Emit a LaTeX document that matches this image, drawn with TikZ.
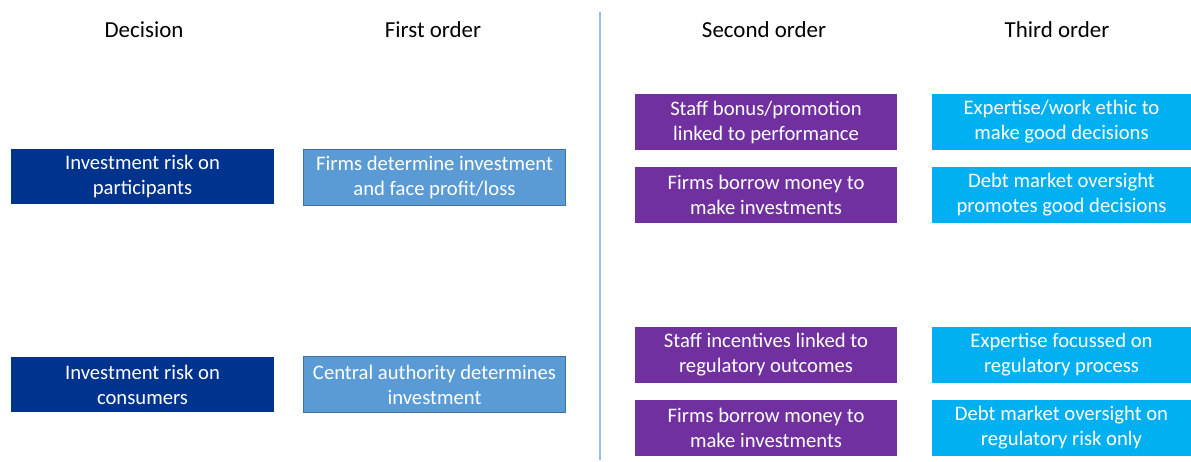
\documentclass[tikz,border=0pt]{standalone}
\usepackage{fontspec}
\setmainfont{Carlito}
\usepackage{tikz}

\definecolor{decblue}{RGB}{0,51,141}
\definecolor{firstblue}{RGB}{91,155,213}
\definecolor{firstedge}{RGB}{65,113,156}
\definecolor{secpurple}{RGB}{112,48,160}
\definecolor{thirdcyan}{RGB}{0,176,240}
\definecolor{sepline}{RGB}{150,190,232}

\begin{document}
\begin{tikzpicture}[x=0.75pt, y=-0.75pt,
	box/.style={minimum height=41.5pt, inner sep=0pt, align=center, text=white,
		font=\fontsize{15.5}{18.75}\selectfont},
	decbox/.style={box, fill=decblue, minimum width=197pt},
	firstbox/.style={box, fill=firstblue, draw=firstedge, line width=0.6pt, minimum width=196pt},
	secbox/.style={box, fill=secpurple, minimum width=196.5pt},
	thirdbox/.style={box, fill=thirdcyan, minimum width=194pt},
	head/.style={font=\fontsize{17.2}{20}\selectfont}]
	\useasboundingbox (0,0) rectangle (1191,461);

	% headings
	\node[head] (hd) at (144,30) {Decision};
	\node[head] (hf) at (433,30) {First order};
	\node[head] (hs) at (764,30) {Second order};
	\node[head] (ht) at (1057,30) {Third order};

	% separator
	\coordinate (l1) at (599.5,12);
	\coordinate (l2) at (599.5,460);
	\draw[sepline, line width=1.5pt] (l1) -- (l2);

	% decision
	\node[decbox] (d1) at (142.5,176.5) {Investment risk on\\participants};
	\node[decbox] (d2) at (142.5,384.5) {Investment risk on\\consumers};

	% first order
	\node[firstbox] (f1) at (434.5,177.5) {Firms determine investment\\and face profit/loss};
	\node[firstbox] (f2) at (434.5,384.5) {Central authority determines\\investment};

	% second order
	\node[secbox] (s1) at (766,122) {Staff bonus/promotion\\linked to performance};
	\node[secbox] (s2) at (766,195) {Firms borrow money to\\make investments};
	\node[secbox] (s3) at (766,355) {Staff incentives linked to\\regulatory outcomes};
	\node[secbox] (s4) at (766,428) {Firms borrow money to\\make investments};

	% third order
	\node[thirdbox] (t1) at (1061.5,122) {Expertise/work ethic to\\make good decisions};
	\node[thirdbox] (t2) at (1061.5,195) {Debt market oversight\\promotes good decisions};
	\node[thirdbox] (t3) at (1061.5,355) {Expertise focussed on\\regulatory process};
	\node[thirdbox] (t4) at (1061.5,428) {Debt market oversight on\\regulatory risk only};
\end{tikzpicture}
\end{document}
